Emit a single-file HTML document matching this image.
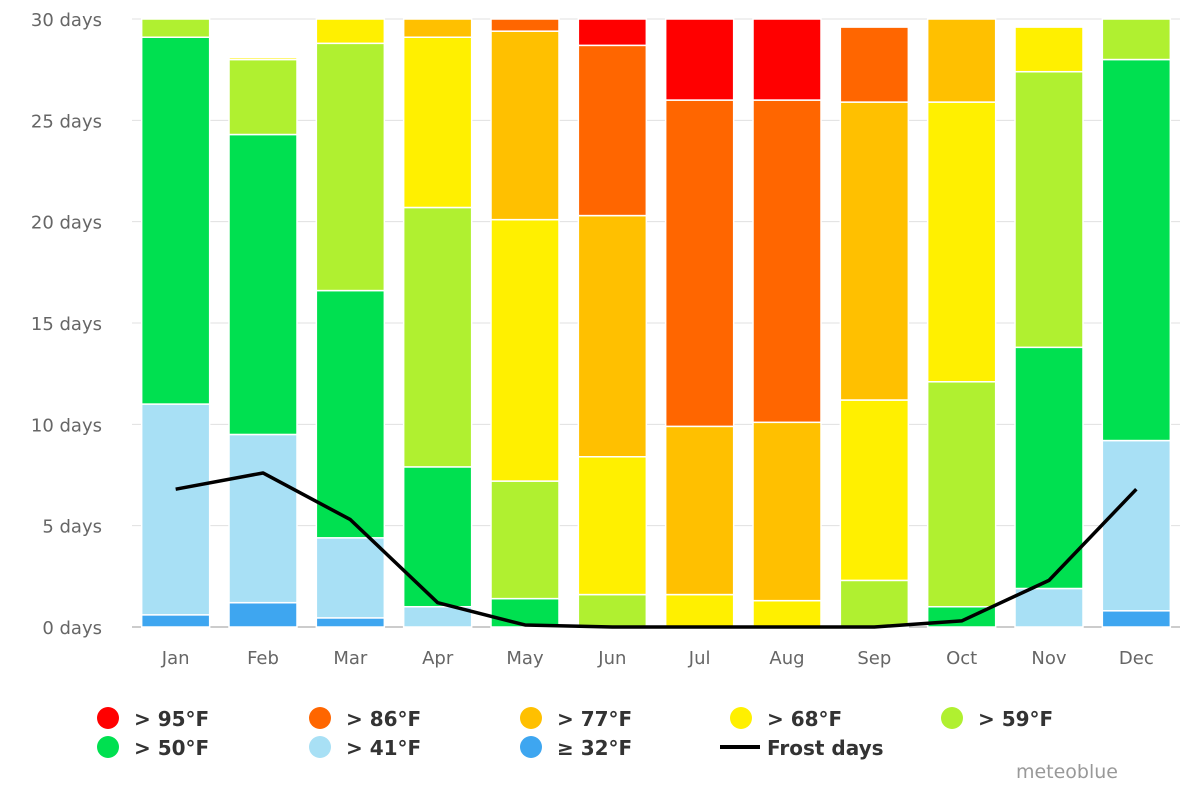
<!DOCTYPE html>
<html><head><meta charset="utf-8"><style>
body{margin:0;background:#fff;}
svg text{font-family:"DejaVu Sans","Liberation Sans",sans-serif;}
</style></head><body>
<svg id="chart" width="1200" height="800" xmlns="http://www.w3.org/2000/svg">
<g id="grid"></g>
<g id="bars"></g>
<g id="line"></g>
<g id="axes"></g>
<g id="legend"></g>
<text x="1118" y="778" text-anchor="end" font-size="19" fill="#999">meteoblue</text>
</svg>
<script>
const months=["Jan","Feb","Mar","Apr","May","Jun","Jul","Aug","Sep","Oct","Nov","Dec"];
const seriesNames=["≥ 32°F","> 41°F","> 50°F","> 59°F","> 68°F","> 77°F","> 86°F","> 95°F"];
const seriesColors=["#3ea6f0","#a8e0f5","#00e050","#b0f030","#fff000","#ffc000","#ff6600","#ff0000"];
const d32=[0.6,1.2,0.45,0,0,0,0,0,0,0,0,0.8];
const d41=[10.4,8.3,3.95,1.0,0,0,0,0,0,0,1.9,8.4];
const d50=[18.1,14.8,12.2,6.9,1.4,0,0,0,0,1.0,11.9,18.8];
const d59=[1.9,3.7,12.2,12.8,5.8,1.6,0,0,2.3,11.1,13.6,3.0];
const d68=[0,0.1,2.2,8.4,12.9,6.8,1.6,1.3,8.9,13.8,2.2,0];
const d77=[0,0,0,0.9,9.3,11.9,8.3,8.8,14.7,5.1,0,0];
const d86=[0,0,0,0,1.6,8.4,16.1,15.9,3.7,0,0,0];
const d95=[0,0,0,0,0,1.3,5.0,5.0,0,0,0,0];
const frost=[6.8,7.6,5.3,1.2,0.1,0,0,0,0,0.3,2.3,6.8];
const yTicks=[0,5,10,15,20,25,30];
const series=[d32,d41,d50,d59,d68,d77,d86,d95];
const NS="http://www.w3.org/2000/svg";
const x0=132,x1=1180,y0=627,ymaxPx=19,ymax=30;
const step=(x1-x0)/12;
const xs=i=>x0+step*(i+0.5);
const ys=v=>y0-(Math.min(v,ymax))*(y0-ymaxPx)/ymax;
function mk(t,a,p){const e=document.createElementNS(NS,t);for(const k in a)e.setAttribute(k,a[k]);p.appendChild(e);return e;}
const grid=document.getElementById('grid'),axes=document.getElementById('axes');
yTicks.forEach(t=>{
 const l=mk('line',{x1:x0,x2:x1,y1:ys(t),y2:ys(t),stroke:t===0?'#999':'#e0e0e0','stroke-width':1},grid);
 
 
 const tx=mk('text',{x:102,y:ys(t)+7,'text-anchor':'end','font-size':18,fill:'#666'},axes);
 tx.textContent=t+' days';
 
 
});
const bars=document.getElementById('bars');
months.forEach((m,i)=>{
 let cum=0;
 series.forEach((s,k)=>{
  const v=s[i];if(v<=0)return;
  const top=Math.min(cum+v,ymax);if(cum>=ymax)return;
  const r=mk('rect',{x:xs(i)-34,width:68,y:ys(top),height:Math.max(0,ys(cum)-ys(top)),fill:seriesColors[k],stroke:'#fff','stroke-width':1.5},bars);
  
  
  cum+=v;
 });
 const tx=mk('text',{x:xs(i),y:664,'text-anchor':'middle','font-size':18,fill:'#666'},axes);
 tx.textContent=m;
 
 
});
const lg=document.getElementById('line');
const p=mk('polyline',{points:frost.map((v,i)=>xs(i)+','+ys(v)).join(' '),fill:'none',stroke:'#000','stroke-width':3.5,'stroke-linejoin':'round'},lg);


const leg=document.getElementById('legend');
const order=[7,6,5,4,3,2,1,0];
const lx=[108,320,531,741,952];
order.forEach((k,j)=>{
 const row=Math.floor(j/5),col=j%5;
 const cx=lx[col],cy=718+row*29;
 const g=mk('g',{},leg);
 
 
 mk('circle',{cx:cx,cy:cy,r:11,fill:seriesColors[k]},g);
 const t=mk('text',{x:cx+26,y:cy+8,'font-size':20,'font-weight':'bold',fill:'#333'},g);
 t.textContent=seriesNames[k];
});
const g=mk('g',{},leg);


mk('line',{x1:720,x2:760,y1:747,y2:747,stroke:'#000','stroke-width':4},g);
const t=mk('text',{x:767,y:755,'font-size':20,'font-weight':'bold',fill:'#333'},g);
t.textContent='Frost days';
</script>
</body></html>
